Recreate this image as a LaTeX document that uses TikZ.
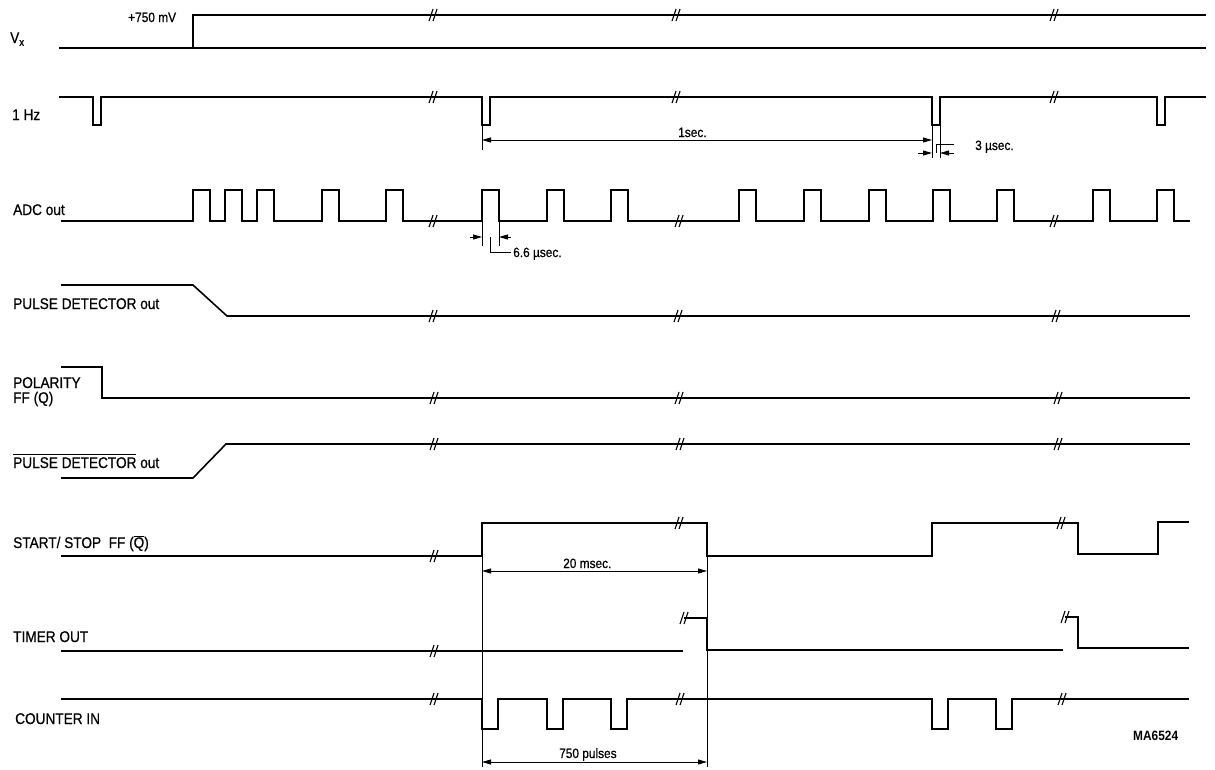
\documentclass[tikz,border=0pt]{standalone}
\usepackage{fontspec}
\setmainfont{Liberation Sans}[FakeStretch=0.88]
\newfontfamily\lblfont{Liberation Sans}[FakeStretch=0.88,FakeBold=0.6]
\usetikzlibrary{arrows.meta}
\newcommand{\ovl}[1]{$\overline{\hbox{#1}}$}
\newcommand{\brkmark}[2]{\draw[brkline] ({#1-3},{#2+6}) -- ({#1+1},{#2-6}) ({#1+1},{#2+6}) -- ({#1+5},{#2-6});}
\tikzset{
  wave/.style={line width=1.6pt, line join=miter, line cap=rect},
  brkline/.style={line width=1.1pt},
  dimln/.style={line width=0.9pt},
  dimarr/.style={dimln, {Triangle[length=9pt,width=5pt]}-{Triangle[length=9pt,width=5pt]}},
  onearr/.style={dimln, -{Triangle[length=9pt,width=5pt]}},
  lbl/.style={font=\lblfont\fontsize{15.5}{15.5}\selectfont, anchor=base west, inner sep=0pt},
  dlbl/.style={font=\lblfont\fontsize{13.5}{14}\selectfont, anchor=base west, inner sep=0pt}
}
\begin{document}
\begin{tikzpicture}[x=1pt,y=-1pt]
\useasboundingbox[fill=white] (0,0) rectangle (1215,769);

% ---------- labels ----------
\node[lbl] (lvx) at (10,43) {V\raisebox{-0.35ex}{\fontsize{11}{11}\selectfont x}};
\node[lbl] (l1hz) at (12,120) {1 Hz};
\node[lbl] (ladc) at (13,215) {ADC out};
\node[lbl] (lpd) at (13,309) {PULSE\ DETECTOR out};
\node[lbl] (lpola) at (13,388) {POLARITY};
\node[lbl] (lpolb) at (13,403) {FF (Q)};
\node[lbl] (lpdb) at (13,468) {\ovl{\rule{0pt}{12.5pt}PULSE\ DETECTOR} out};
\node[lbl] (lss) at (13,548) {START/ STOP\ \ FF (\ovl{Q})};
\node[lbl] (ltim) at (13,642) {TIMER OUT};
\node[lbl] (lcnt) at (15,724) {COUNTER IN};

% ---------- Vx ----------
\draw[wave] (60,48) -- (1205,48);
\draw[wave] (193,48) -- (193,15) -- (1205,15);
\brkmark{432}{15}\brkmark{675}{15}\brkmark{1053}{15}
\node[dlbl] (tmv) at (128,22) {+750 mV};

% ---------- 1 Hz ----------
\draw[wave] (60,97)
  foreach \x in {93,482,932,1157} { -- (\x,97) -- (\x,125) -- ({\x+8},125) -- ({\x+8},97) }
  -- (1205,97);
\brkmark{432}{97}\brkmark{675}{97}\brkmark{1053}{97}
% 1 sec dimension
\draw[dimln] (482,125) -- (482,150);
\draw[dimln] (932,125) -- (932,158);
\draw[dimln] (940,125) -- (940,158);
\draw[dimarr] (482,140) -- (932,140);
\node[dlbl] (t1s) at (678,137) {1sec.};
% 3 usec dimension
\draw[onearr] (918,153) -- (932,153);
\draw[onearr] (954,153) -- (940,153);
\draw[dimln] (936,153) -- (936,144) -- (954,144);
\node[dlbl] (t3u) at (975,150) {3 µsec.};

% ---------- ADC out ----------
\draw[wave] (62,221)
  foreach \x in {193,225,257,322,386,482,547,611,739,804,869,933,997,1093,1157}
  { -- (\x,221) -- (\x,190) -- ({\x+17},190) -- ({\x+17},221) }
  -- (1189,221);
\brkmark{432}{221}\brkmark{678}{221}\brkmark{1053}{221}
% 6.6 usec dimension
\draw[dimln] (482,222) -- (482,246);
\draw[dimln] (499,222) -- (499,246);
\draw[onearr] (470,237) -- (482,237);
\draw[onearr] (511,237) -- (499,237);
\draw[dimln] (490,237) -- (490,252) -- (511,252);
\node[dlbl] (t66) at (513,257) {6.6 µsec.};

% ---------- PULSE DETECTOR out ----------
\draw[wave] (62,285) -- (193,285) -- (227,316) -- (1189,316);
\brkmark{432}{316}\brkmark{677}{316}\brkmark{1055}{316}

% ---------- POLARITY FF (Q) ----------
\draw[wave] (62,367) -- (102,367) -- (102,398) -- (1189,398);
\brkmark{433}{398}\brkmark{678}{398}\brkmark{1057}{398}

% ---------- PULSE DETECTOR out (inverted) ----------
\draw[wave] (62,478) -- (193,478) -- (226,444) -- (1189,444);
\brkmark{433}{444}\brkmark{679}{444}\brkmark{1057}{444}

% ---------- START/STOP FF ----------
\draw[wave] (62,556) -- (482,556) -- (482,523) -- (707,523) -- (707,556)
  -- (932,556) -- (932,523) -- (1078,523) -- (1078,554) -- (1158,554)
  -- (1158,522) -- (1188,522);
\brkmark{433}{556}\brkmark{678}{523}\brkmark{1060}{523}
% extension lines and 20 msec
\draw[dimln] (482,523) -- (482,767);
\draw[dimln] (707,523) -- (707,767);
\draw[dimarr] (482,571) -- (707,571);
\node[dlbl] (t20) at (563,568) {20 msec.};

% ---------- TIMER OUT ----------
\draw[wave] (62,651) -- (682,651);
\draw[wave] (685,618) -- (707,618) -- (707,650) -- (1062,650);
\draw[wave] (1066,617) -- (1078,617) -- (1078,648) -- (1188,648);
\brkmark{433}{651}\brkmark{683}{618}\brkmark{1064}{617}

% ---------- COUNTER IN ----------
\draw[wave] (62,699)
  foreach \x in {482,547,611,932,996} { -- (\x,699) -- (\x,729) -- ({\x+16},729) -- ({\x+16},699) }
  -- (1188,699);
\brkmark{433}{699}\brkmark{679}{699}\brkmark{1061}{699}
\draw[dimarr] (482,762) -- (707,762);
\node[dlbl] (t750) at (559,758) {750 pulses};

\node[dlbl, font=\fontsize{13.5}{14}\selectfont\bfseries] (tma) at (1133,740) {MA6524};
\end{tikzpicture}
\end{document}
